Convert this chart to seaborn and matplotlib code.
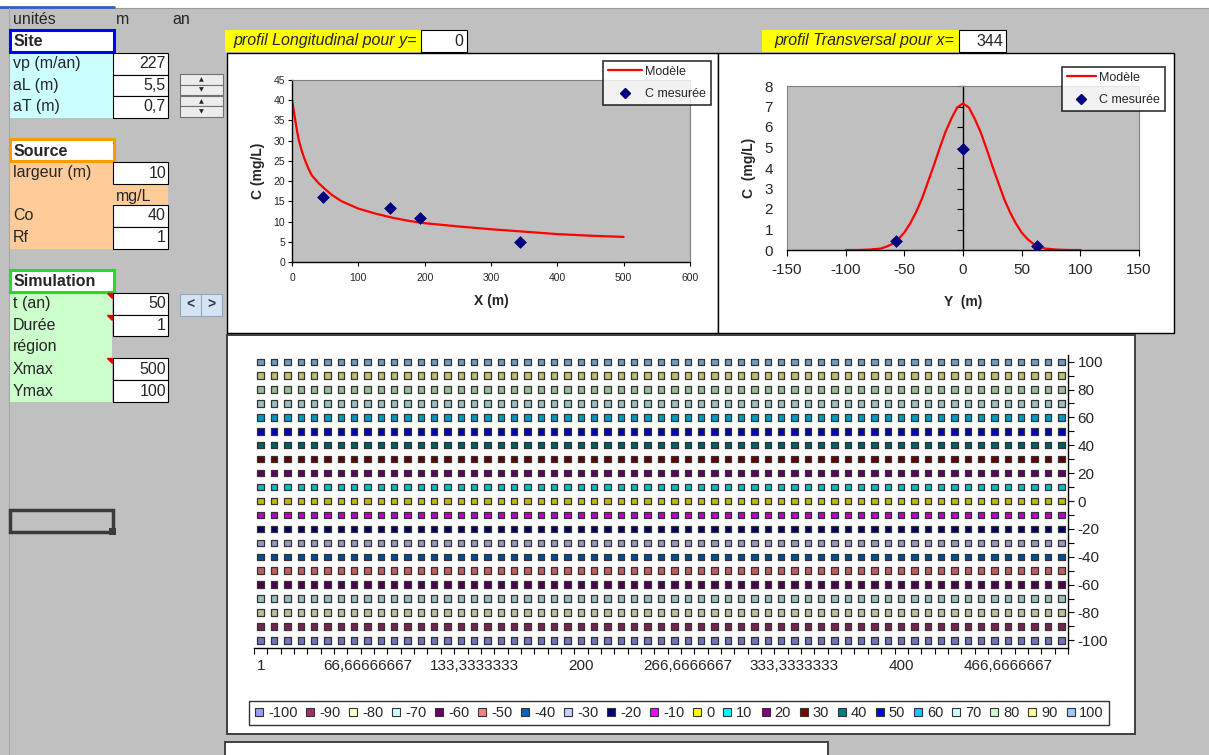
import matplotlib
matplotlib.use("Agg")
import matplotlib.pyplot as plt
from matplotlib.patches import Rectangle, Polygon
from matplotlib.lines import Line2D
from matplotlib.colors import to_rgb
from matplotlib.ticker import FixedLocator
import numpy as np
import pandas as pd
import seaborn as sns

W, H = 1209, 755
GRIS = "#C0C0C0"

# --- feuille : paramètres ---
site_labels = ["vp (m/an)", "aL (m)", "aT (m)"]
site_values = ["227", "5,5", "0,7"]
source_labels = ["largeur (m)", "", "Co", "Rf"]
source_values = ["10", "mg/L", "40", "1"]
sim_labels = ["t (an)", "Durée", "région", "Xmax", "Ymax"]
sim_values = ["50", "1", None, "500", "100"]
profil_y = "0"
profil_x = "344"

# --- profil longitudinal (y = 0) ---
long_x = [0, 2.5, 5, 7.5, 10, 15, 20, 25, 30, 40, 50, 60, 75, 100, 125, 150,
          175, 200, 250, 300, 350, 400, 450, 500]
long_c = [40, 37.5, 35, 32.5, 30.3, 27.3, 25.0, 23.0, 21.4, 19.5, 18.0, 16.6,
          15.0, 13.2, 12.0, 11.0, 10.2, 9.6, 8.8, 8.1, 7.5, 6.9, 6.5, 6.2]
long_mes_x = [46, 148, 193, 343]
long_mes_c = [16.1, 13.3, 10.8, 5.0]

# --- profil transversal (x = 344) ---
trans_y = [-100, -90, -80, -70, -65, -60, -55, -50, -45, -40, -35, -30, -25,
           -20, -15, -10, -5, 0, 5, 10, 15, 20, 25, 30, 35, 40, 45, 50, 55,
           60, 65, 70, 80, 90, 100]
trans_c = [0, 0, 0.02, 0.07, 0.17, 0.3, 0.53, 0.85, 1.3, 1.85, 2.5, 3.3, 4.1,
           4.95, 5.75, 6.4, 6.95, 7.15, 6.95, 6.4, 5.75, 4.95, 4.1, 3.3, 2.5,
           1.85, 1.3, 0.85, 0.53, 0.3, 0.17, 0.07, 0.02, 0, 0]
trans_mes_y = [-57, 0, 63]
trans_mes_c = [0.45, 4.95, 0.2]

# --- région (séries par niveau) ---
niveaux = [-100, -90, -80, -70, -60, -50, -40, -30, -20, -10, 0,
           10, 20, 30, 40, 50, 60, 70, 80, 90, 100]
couleurs = ["#9999FF", "#993366", "#FFFFCC", "#CCFFFF", "#660066", "#FF8080",
            "#0066CC", "#CCCCFF", "#000080", "#FF00FF", "#FFFF00", "#00FFFF",
            "#800080", "#800000", "#008080", "#0000FF", "#00CCFF", "#CCFFFF",
            "#CCFFCC", "#FFFF99", "#99CCFF"]
n_colonnes = 61
x_tick_labels = ["1", "66,66666667", "133,3333333", "200", "266,6666667",
                 "333,3333333", "400", "466,6666667"]

sns.set_theme(style="white")
plt.rcParams["font.family"] = ["Liberation Sans", "DejaVu Sans"]
plt.rcParams["axes.unicode_minus"] = False

fig = plt.figure(figsize=(W / 100, H / 100), dpi=100)
fig.patch.set_facecolor(GRIS)

bg = fig.add_axes([0, 0, 1, 1])
bg.set_xlim(0, W)
bg.set_ylim(H, 0)
bg.axis("off")


def pos(x0, y0, x1, y1):
    return [x0 / W, 1 - y1 / H, (x1 - x0) / W, (y1 - y0) / H]


def rect(x0, y0, x1, y1, fc="white", ec="black", lw=0.8, z=1):
    bg.add_patch(Rectangle((x0, y0), x1 - x0, y1 - y0, facecolor=fc,
                           edgecolor=ec, linewidth=lw, zorder=z))


def txt(x, y, s, ha="left", size=11.5, **kw):
    bg.text(x, y, s, ha=ha, va="center", fontsize=size, zorder=5, **kw)


# bandeau du haut
rect(0, 0, W, 8, fc="white", ec="none")
bg.plot([0, W], [8, 8], color="#9A9A9A", lw=0.8)
bg.plot([0, 114], [7, 7], color="#3060C0", lw=2)
bg.plot([9, 9], [8, H], color="#A8A8A8", lw=0.8)

txt(13, 20, "unités")
txt(116, 20, "m")
txt(172, 20, "an")

# bloc Site
rect(10, 53, 113, 118, fc="#CCFFFF", ec="none")
rect(10, 30, 114, 52, ec="#0000FF", lw=2.2, z=2)
txt(14, 41, "Site", weight="bold")
y_edges = [53, 74.5, 96, 117.5]
for i, (lab, val) in enumerate(zip(site_labels, site_values)):
    yc = (y_edges[i] + y_edges[i + 1]) / 2
    txt(13, yc, lab)
    rect(113, y_edges[i], 168, y_edges[i + 1], z=2)
    txt(166, yc, val, ha="right")

# bloc Source
rect(10, 162, 168, 249, fc="#FFCC99", ec="none")
rect(10, 139, 114, 161, ec="#FF9900", lw=2.2, z=2)
txt(14, 151, "Source", weight="bold")
y_edges = [162, 184, 205, 227, 249]
for i, (lab, val) in enumerate(zip(source_labels, source_values)):
    yc = (y_edges[i] + y_edges[i + 1]) / 2
    txt(13, yc, lab)
    if val == "mg/L":
        txt(116, yc + 2, val)
    else:
        rect(113, y_edges[i], 168, y_edges[i + 1], z=2)
        txt(166, yc, val, ha="right")

# bloc Simulation
rect(10, 292, 112, 402, fc="#CCFFCC", ec="none")
rect(10, 270, 114, 292, ec="#22DD22", lw=2.2, z=2)
txt(14, 282, "Simulation", weight="bold")
y_edges = [292.5, 314.5, 336, 358, 380, 402]
for i, (lab, val) in enumerate(zip(sim_labels, sim_values)):
    yc = (y_edges[i] + y_edges[i + 1]) / 2
    txt(13, yc, lab)
    if val is not None:
        rect(113, y_edges[i], 168, y_edges[i + 1], z=2)
        txt(166, yc, val, ha="right")
for yt in [292.5, 314.5, 358]:
    bg.add_patch(Polygon([[107, yt], [112, yt], [112, yt + 5]],
                         color="#E00000", zorder=4))

# cellule sélectionnée
rect(10, 510, 113, 532, fc="none", ec="#3A3A3A", lw=2.5, z=3)
rect(109, 528, 116, 535, fc="#3A3A3A", ec="none", z=4)

# boutons toupie
for y0, y1, sym in [(74, 84.5, "▲"), (84.5, 95, "▼"), (96, 106, "▲"), (106, 117, "▼")]:
    rect(180, y0, 223, y1, fc="#ECECEC", ec="#707070", lw=0.8, z=2)
    bg.text(201, (y0 + y1) / 2 + 0.5, sym, ha="center", va="center", fontsize=4.5,
            family="DejaVu Sans", zorder=5)
rect(180, 294, 222, 316, fc="#D6E3F3", ec="#8CA6C8", lw=0.8, z=2)
bg.plot([201, 201], [295, 315], color="#8CA6C8", lw=0.8, zorder=3)
bg.text(190.5, 305, "<", ha="center", va="center", fontsize=10, weight="bold",
        color="#2A3A5A", zorder=5)
bg.text(211.5, 305, ">", ha="center", va="center", fontsize=10, weight="bold",
        color="#2A3A5A", zorder=5)

# en-têtes jaunes des profils
rect(225, 30, 421, 52, fc="#FFFF00", ec="none")
rect(421, 30, 467, 52, z=2)
txt(233, 41, "profil Longitudinal pour y=", style="italic")
txt(463, 41, profil_y, ha="right")
rect(762, 30, 959, 52, fc="#FFFF00", ec="none")
rect(959, 30, 1006, 52, z=2)
txt(774, 41, "profil Transversal pour x=", style="italic")
txt(1003, 41, profil_x, ha="right")

# cadres des graphiques
rect(227, 53, 718, 333, ec="black", lw=1)
rect(718, 53, 1174, 333, ec="black", lw=1)
rect(227, 335, 1135, 734, ec="#404040", lw=1.4)
rect(225, 742, 828, 760, ec="#404040", lw=1.4)

# ---------- profil longitudinal ----------
ax1 = fig.add_axes(pos(292, 80, 690, 262))
ax1.set_facecolor(GRIS)
sns.lineplot(x=long_x, y=long_c, color="#FF0000", lw=1.6, ax=ax1)
sns.scatterplot(x=long_mes_x, y=long_mes_c, marker="D", s=36, color="#000080",
                edgecolor="#000080", ax=ax1, zorder=3)
ax1.set_xlim(0, 600)
ax1.set_ylim(0, 45)
ax1.set_xticks(range(0, 601, 100))
ax1.set_yticks(range(0, 46, 5))
for s in ["top", "right"]:
    ax1.spines[s].set_color("#808080")
    ax1.spines[s].set_linewidth(0.8)
for s in ["left", "bottom"]:
    ax1.spines[s].set_color("black")
    ax1.spines[s].set_linewidth(1)
ax1.tick_params(axis="both", direction="out", length=3, width=0.8, color="black",
                labelsize=7.5, left=True, bottom=True)
ax1.tick_params(axis="x", pad=5)
ax1.tick_params(axis="y", pad=2)
ax1.set_xlabel("X (m)", fontsize=10, weight="bold", labelpad=8)
ax1.set_ylabel("C (mg/L)", fontsize=10, weight="bold", labelpad=6)
h1 = [Line2D([], [], color="#FF0000", lw=1.6),
      Line2D([], [], marker="D", color="#000080", ls="none", ms=5)]
leg1 = ax1.legend(h1, ["Modèle", "C mesurée"], loc="upper left",
                  bbox_to_anchor=(603 / W, 1 - 61 / H), bbox_transform=fig.transFigure,
                  fontsize=9, frameon=True, fancybox=False, edgecolor="black",
                  handlelength=2.7, handletextpad=0.3, borderpad=0.38,
                  labelspacing=0.85, borderaxespad=0)
leg1.get_frame().set_linewidth(1.2)
leg1.get_frame().set_facecolor("white")

# ---------- profil transversal ----------
ax2 = fig.add_axes(pos(787, 86, 1139, 250))
ax2.set_facecolor(GRIS)
sns.lineplot(x=trans_y, y=trans_c, color="#FF0000", lw=1.6, ax=ax2)
sns.scatterplot(x=trans_mes_y, y=trans_mes_c, marker="D", s=36, color="#000080",
                edgecolor="#000080", ax=ax2, zorder=3)
ax2.set_xlim(-150, 150)
ax2.set_ylim(0, 8)
ax2.set_xticks(range(-150, 151, 50))
ax2.set_yticks(range(0, 9))
for s in ["top", "right", "left"]:
    ax2.spines[s].set_color("#808080")
    ax2.spines[s].set_linewidth(0.8)
ax2.spines["bottom"].set_color("black")
ax2.spines["bottom"].set_linewidth(1)
ax2.tick_params(axis="x", direction="out", length=4, width=0.8, color="black",
                labelsize=11, bottom=True, pad=5)
ax2.tick_params(axis="y", length=0, labelsize=11, left=True, pad=10)
sec = ax2.secondary_yaxis(0.5)
sec.set_alignment("left")
sec.set_yticks(range(0, 9))
sec.set_yticklabels([])
sec.tick_params(axis="y", direction="out", length=4, width=0.8, color="black")
sec.spines["left"].set_color("black")
sec.spines["left"].set_linewidth(1)
ax2.set_xlabel("Y  (m)", fontsize=10, weight="bold", labelpad=13)
ax2.set_ylabel("C  (mg/L)", fontsize=10, weight="bold", labelpad=6)
leg2 = ax2.legend(h1, ["Modèle", "C mesurée"], loc="upper left",
                  bbox_to_anchor=(1062 / W, 1 - 67 / H), bbox_transform=fig.transFigure,
                  fontsize=9, frameon=True, fancybox=False, edgecolor="black",
                  handlelength=2.35, handletextpad=0.25, borderpad=0.38,
                  labelspacing=0.85, borderaxespad=0)
leg2.get_frame().set_linewidth(1.2)
leg2.get_frame().set_facecolor("white")

# ---------- région ----------
ax3 = fig.add_axes(pos(254, 355, 1068, 648))
ax3.patch.set_alpha(0)
grid = pd.DataFrame([(c, v, str(v)) for v in niveaux for c in range(n_colonnes)],
                    columns=["colonne", "niveau", "serie"])
teintes = [tuple(0.75 * k for k in to_rgb(c)) for c in couleurs]
sns.scatterplot(data=grid, x="colonne", y="niveau", hue="serie",
                hue_order=[str(v) for v in niveaux], palette=teintes, marker="s",
                s=21, edgecolor="#333333", linewidth=0.9, legend=False, ax=ax3)
ax3.set_xlim(-0.5, n_colonnes - 0.5)
ax3.set_ylim(-105.5, 104.8)
ax3.set_xticks(range(0, 8 * len(x_tick_labels), 8))
ax3.set_xticklabels(x_tick_labels)
ax3.xaxis.set_minor_locator(FixedLocator(np.arange(-0.5, n_colonnes, 1)))
ax3.yaxis.tick_right()
ax3.set_yticks(range(-100, 101, 20))
ax3.yaxis.set_minor_locator(FixedLocator(range(-100, 101, 10)))
for s in ["top", "left"]:
    ax3.spines[s].set_visible(False)
for s in ["bottom", "right"]:
    ax3.spines[s].set_color("black")
    ax3.spines[s].set_linewidth(1)
ax3.tick_params(axis="x", which="major", length=0, labelsize=11, pad=8)
ax3.tick_params(axis="x", which="minor", direction="out", length=4, width=0.8,
                color="black", bottom=True)
ax3.tick_params(axis="y", which="both", direction="out", length=4, width=0.8,
                color="black", right=True, left=False, labelsize=11, pad=3)
ax3.set_xlabel("")
ax3.set_ylabel("")
h3 = [Line2D([], [], marker="s", ls="none", markerfacecolor=c,
             markeredgecolor="#333333", markeredgewidth=0.8, ms=6) for c in couleurs]
leg3 = ax3.legend(h3, [str(v) for v in niveaux], ncol=len(niveaux), loc="lower left",
                  bbox_to_anchor=(249 / W, 1 - 725 / H, (1109 - 249) / W, 28 / H),
                  bbox_transform=fig.transFigure, mode="expand", fontsize=10.5,
                  frameon=True, fancybox=False, edgecolor="black", handlelength=0.7,
                  handletextpad=0.25, columnspacing=0.3, borderpad=0.35,
                  borderaxespad=0)
leg3.get_frame().set_linewidth(1)
leg3.get_frame().set_facecolor("white")

fig.savefig("out.png", dpi=100, facecolor=fig.get_facecolor())
